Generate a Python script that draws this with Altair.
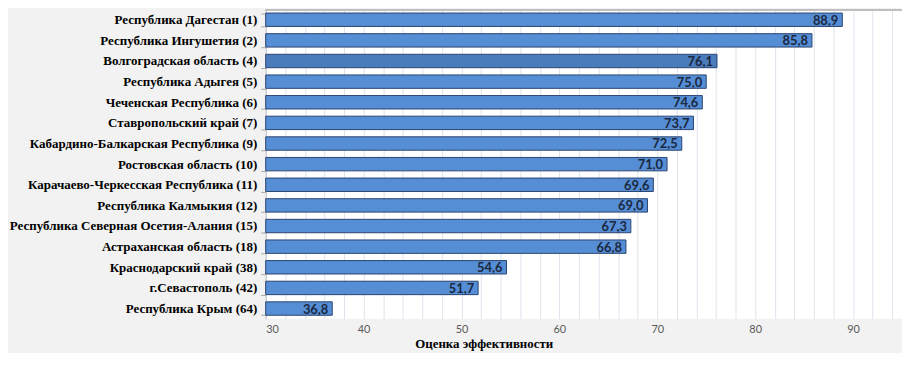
import altair as alt
import pandas as pd

regions = [
    "Республика Дагестан (1)",
    "Республика Ингушетия (2)",
    "Волгоградская область (4)",
    "Республика Адыгея (5)",
    "Чеченская Республика (6)",
    "Ставропольский край (7)",
    "Кабардино-Балкарская Республика (9)",
    "Ростовская область (10)",
    "Карачаево-Черкесская Республика (11)",
    "Республика Калмыкия (12)",
    "Республика Северная Осетия-Алания (15)",
    "Астраханская область (18)",
    "Краснодарский край (38)",
    "г.Севастополь (42)",
    "Республика Крым (64)",
]
scores = [88.9, 85.8, 76.1, 75.0, 74.6, 73.7, 72.5, 71.0, 69.6, 69.0, 67.3, 66.8, 54.6, 51.7, 36.8]
highlight = [False, False, True] + [False] * 12
grid_values = list(range(30, 96, 2))
label_values = list(range(30, 96, 10))

df = pd.DataFrame({
    "region": regions,
    "score": scores,
    "hl": highlight,
    "label": [f"{v:.1f}".replace(".", ",") for v in scores],
})

W, H = 642, 312

x_scale = alt.Scale(domain=[30, 95], nice=False, zero=False)
y_scale = alt.Scale(paddingInner=0.35, paddingOuter=0.17)

x_axis = alt.Axis(
    title="Оценка эффективности",
    titleFont="Liberation Serif",
    titleFontWeight="bold",
    titleFontSize=13,
    titleColor="#000000",
    titleX=220,
    titleY=19,
    titleBaseline="top",
    titleAlign="center",
    values=grid_values,
    labelExpr="datum.value % 10 == 0 ? datum.label : ''",
    labelOverlap=False,
    labelFont="Lato",
    labelFontSize=11,
    labelColor="#595959",
    labelPadding=5,
    ticks=False,
    domain=False,
    grid=True,
    gridColor="#dde4ec",
    gridWidth=1,
)

y_axis = alt.Axis(
    title=None,
    labelFont="Liberation Serif",
    labelFontWeight="bold",
    labelFontSize=13.1,
    labelColor="#000000",
    labelLimit=300,
    labelPadding=4,
    tickBand="extent",
    tickSize=5,
    tickColor="#a6a6a6",
    domainColor="#bfbfbf",
    grid=False,
)

bars = alt.Chart(df).mark_bar(stroke="#2b4470", strokeWidth=1).encode(
    x=alt.X("score:Q", scale=x_scale, axis=x_axis),
    x2=alt.datum(30),
    y=alt.Y("region:N", sort=regions, scale=y_scale, axis=y_axis),
    color=alt.condition("datum.hl", alt.value("#4a7cbc"), alt.value("#558ed5")),
)

text = alt.Chart(df).mark_text(
    align="right", baseline="middle", dx=-4, dy=1,
    font="Lato", fontWeight="bold", fontSize=13, color="#1b2840",
).encode(
    x=alt.X("score:Q", scale=x_scale, axis=x_axis),
    y=alt.Y("region:N", sort=regions, scale=y_scale, axis=y_axis),
    text="label:N",
)

top_rule = alt.Chart(df).mark_rule(color="#bfbfbf", strokeWidth=1).encode(
    x=alt.value(0), x2=alt.value(W), y=alt.value(0.5)
)

chart = alt.layer(bars, text, top_rule).properties(
    width=W, height=H,
    autosize=alt.AutoSizeParams(type="none"),
    padding={"left": 260, "top": 0, "right": 0, "bottom": 33},
    background="#f2f2f2",
).configure_view(fill="#ffffff", stroke=None)

chart.save("out.html", embed_options={"renderer": "svg", "actions": False})
